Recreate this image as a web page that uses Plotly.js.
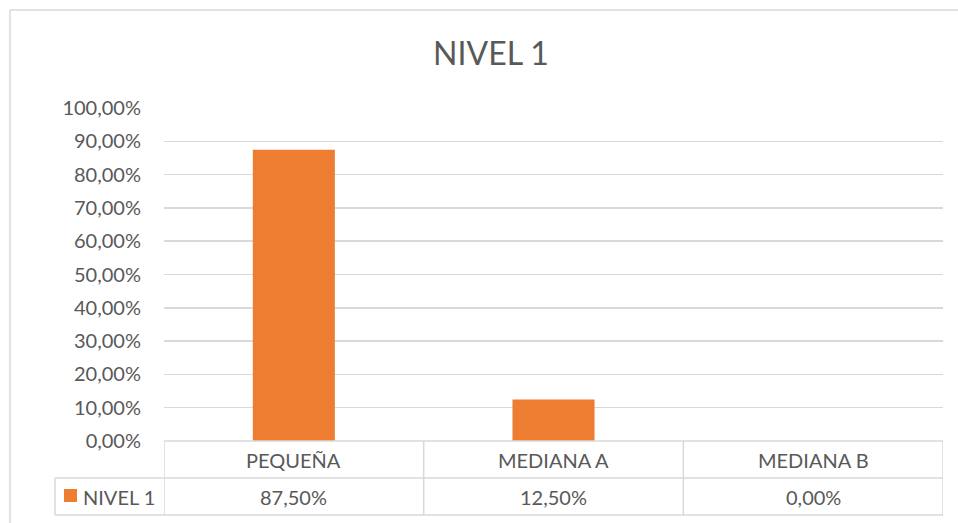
<!DOCTYPE html>
<html>
<head>
<meta charset="utf-8">
<script src="https://cdn.plot.ly/plotly-3.0.1.min.js"></script>
<style>
html,body{margin:0;padding:0;background:#fff;}
#chart{width:958px;height:523px;}
</style>
</head>
<body>
<div id="chart"></div>
<script>
const categories = ["PEQUEÑA", "MEDIANA A", "MEDIANA B"];
const seriesName = "NIVEL 1";
const values = [0.875, 0.125, 0.0];
const valueLabels = ["87,50%", "12,50%", "0,00%"];
const yTicks = [0, 0.1, 0.2, 0.3, 0.4, 0.5, 0.6, 0.7, 0.8, 0.9, 1.0];

const W = 958, H = 523;
const L = 164, R = 943, T = 108, B = 441;
const pw = R - L, ph = B - T;
const px = x => (x - L) / pw;   // pixel -> paper x
const py = y => (B - y) / ph;   // pixel -> paper y

const txt = '#595959';
const grid = '#d9d9d9';
const fontFam = 'Lato, "Open Sans", sans-serif';

const row1 = 478, row2 = 515;
const shapes = [];
function hline(x0, x1, y, xref) {
  shapes.push({type:'line', xref: xref||'paper', yref:'paper', x0:x0, x1:x1, y0:py(y), y1:py(y),
    line:{color:grid, width:1.5}});
}
function vline(x, y0, y1, xref) {
  shapes.push({type:'line', xref: xref||'paper', yref:'paper', x0:x, x1:x, y0:py(y0), y1:py(y1),
    line:{color:grid, width:1.5}});
}
// outer chart border
shapes.push({type:'line', xref:'paper', yref:'paper', x0:px(10), x1:px(960), y0:py(10), y1:py(10), line:{color:grid, width:1.5}});
shapes.push({type:'line', xref:'paper', yref:'paper', x0:px(10), x1:px(10), y0:py(10), y1:py(530), line:{color:grid, width:1.5}});
// data table
hline(0, 1, B);
hline(px(55), 1, row1);
hline(px(55), 1, row2);
vline(px(55), row1, row2);
for (let i = 0; i <= categories.length; i++) {
  vline(i - 0.5, B, row2, 'x');
}
// legend key
shapes.push({type:'rect', xref:'paper', yref:'paper', x0:px(64), x1:px(77), y0:py(502), y1:py(489),
  fillcolor:'#ED7D31', line:{width:0}});

const annotations = [];
categories.forEach((c, i) => {
  annotations.push({x:i, xref:'x', y:py(460), yref:'paper', text:c, showarrow:false,
    font:{family:fontFam, size:20, color:txt}, xanchor:'center', yanchor:'middle'});
  annotations.push({x:i, xref:'x', y:py(497), yref:'paper', text:valueLabels[i], showarrow:false,
    font:{family:fontFam, size:20, color:txt}, xanchor:'center', yanchor:'middle'});
});
annotations.push({x:px(81), xref:'paper', y:py(497), yref:'paper', text:seriesName, showarrow:false,
  font:{family:fontFam, size:20, color:txt}, xanchor:'left', yanchor:'middle'});

const data = [{
  type:'bar', x:categories, y:values, name:seriesName,
  marker:{color:'#ED7D31'}, width:0.316, hoverinfo:'none'
}];

const layout = {
  width:W, height:H,
  margin:{l:L, r:W-R, t:T, b:H-B, pad:0},
  paper_bgcolor:'#fff', plot_bgcolor:'#fff',
  separators:',.',
  showlegend:false,
  title:{text:'NIVEL 1', xref:'container', yref:'container', x:491/W, xanchor:'center', y:1-54/H, yanchor:'middle',
    font:{family:fontFam, size:32, color:txt}},
  xaxis:{type:'category', range:[-0.5, 2.5], showticklabels:false, showgrid:false,
    zeroline:false, showline:false, ticks:'', fixedrange:true},
  yaxis:{range:[0,1], tickvals:yTicks, tickformat:'.2%', showgrid:true, gridcolor:grid, gridwidth:1.5,
    zeroline:false, showline:false, ticks:'', ticklabelstandoff:22,
    tickfont:{family:fontFam, size:20, color:txt}, fixedrange:true},
  shapes:shapes, annotations:annotations
};

Plotly.newPlot('chart', data, layout, {displayModeBar:false, staticPlot:true});
</script>
</body>
</html>
